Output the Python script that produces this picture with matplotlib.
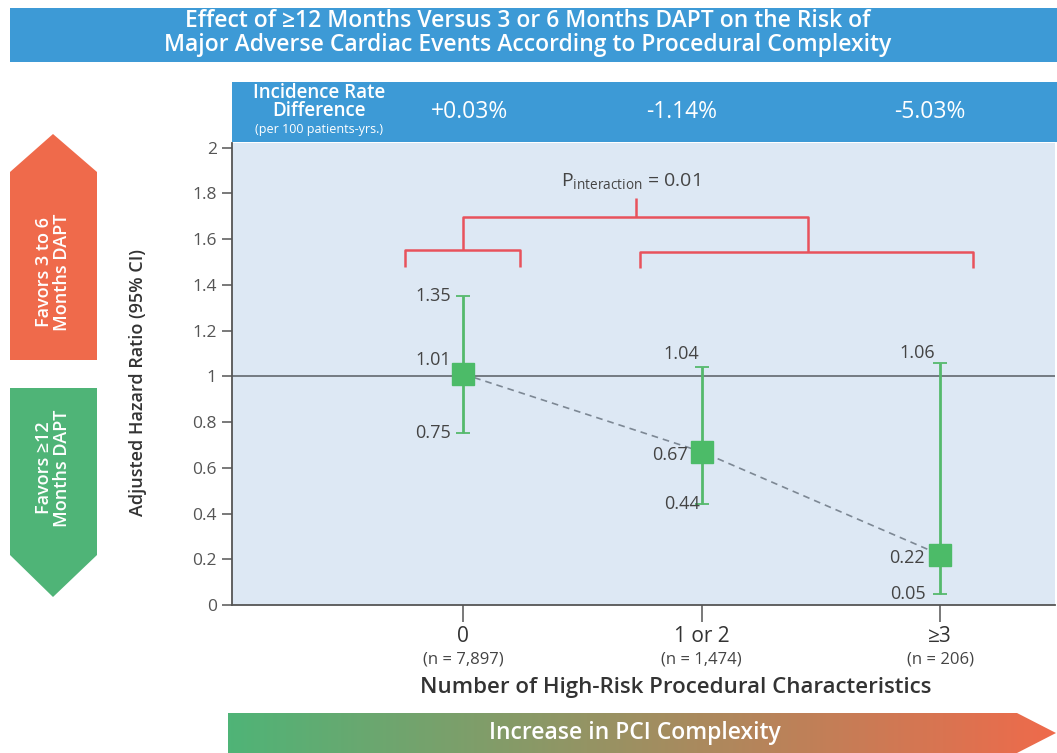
import numpy as np
import matplotlib
matplotlib.use('Agg')
import matplotlib.pyplot as plt
from matplotlib.patches import Polygon, Rectangle
from matplotlib.colors import LinearSegmentedColormap

# data
groups = ['0', '1 or 2', '\u22653']
group_n = ['(n = 7,897)', '(n = 1,474)', '(n = 206)']
hr = np.array([1.01, 0.67, 0.22])
ci_low = np.array([0.75, 0.44, 0.05])
ci_high = np.array([1.35, 1.04, 1.06])
rate_diff = ['+0.03%', '-1.14%', '-5.03%']
yticks = [0, 0.2, 0.4, 0.6, 0.8, 1, 1.2, 1.4, 1.6, 1.8, 2]
ytick_labels = ['0', '0.2', '0.4', '0.6', '0.8', '1', '1.2', '1.4', '1.6', '1.8', '2']

plt.rcParams['font.family'] = ['Open Sans', 'DejaVu Sans']

blue = '#3d9ad6'
orange = '#ef6a4b'
green = '#4fb477'
bar_green = '#55b96c'
red = '#e8525c'
dark = '#333333'
W, H = 1057, 753

fig = plt.figure(figsize=(W / 100, H / 100), dpi=100)
fig.patch.set_facecolor('white')

# decoration layer in pixel coords
deco = fig.add_axes([0, 0, 1, 1], zorder=0)
deco.axis('off')

deco.add_patch(Rectangle((10, 8), W - 10, 54, color=blue, lw=0))
deco.text(528, 21, 'Effect of \u226512 Months Versus 3 or 6 Months DAPT on the Risk of',
          ha='center', va='center', color='white', fontsize=16.5, fontweight='semibold')
deco.text(528, 45, 'Major Adverse Cardiac Events According to Procedural Complexity',
          ha='center', va='center', color='white', fontsize=16.5, fontweight='semibold')

# incidence rate header
deco.add_patch(Rectangle((232, 82), W - 232, 60, color=blue, lw=0))
deco.text(319, 93, 'Incidence Rate', ha='center', va='center', color='white',
          fontsize=13.5, fontweight='semibold')
deco.text(319, 111, 'Difference', ha='center', va='center', color='white',
          fontsize=13.5, fontweight='semibold')
deco.text(319, 129, '(per 100 patients-yrs.)', ha='center', va='center', color='white',
          fontsize=9)
for px, s in zip([470, 682, 930], rate_diff):
    deco.text(px, 112, s, ha='center', va='center', color='white', fontsize=16.5)

# side arrows
deco.add_patch(Polygon([(10, 172), (53, 134), (97, 172), (97, 360), (10, 360)],
                       closed=True, color=orange, lw=0))
deco.add_patch(Polygon([(10, 388), (97, 388), (97, 555), (53, 597), (10, 555)],
                       closed=True, color=green, lw=0))
deco.text(53, 272, 'Favors 3 to 6\nMonths DAPT', rotation=90, ha='center', va='center',
          color='white', fontsize=13, fontweight='semibold', linespacing=1.05)
deco.text(53, 468, 'Favors \u226512\nMonths DAPT', rotation=90, ha='center', va='center',
          color='white', fontsize=13, fontweight='semibold', linespacing=1.05)

# gradient arrow at the bottom
cmap = LinearSegmentedColormap.from_list('cx', [green, orange])
grad = np.linspace(0, 1, 256).reshape(1, -1)
im = deco.imshow(grad, cmap=cmap, extent=[228, 1056, 753, 713], aspect='auto')
clip = Polygon([(228, 713), (1017, 713), (1056, 733), (1017, 753), (228, 753)],
               closed=True, transform=deco.transData, fc='none', lw=0)
deco.add_patch(clip)
im.set_clip_path(clip)
deco.text(635, 733, 'Increase in PCI Complexity', ha='center', va='center',
          color='white', fontsize=16.5, fontweight='semibold')

deco.set_xlim(0, W)
deco.set_ylim(H, 0)

# main plot
ax_l, ax_r, ax_b, ax_t = 232, 1055, 605, 143
ax = fig.add_axes([ax_l / W, 1 - ax_b / H, (ax_r - ax_l) / W, (ax_b - ax_t) / H], zorder=1)
ax.set_facecolor('#dde8f4')
x = np.arange(len(groups))
ax.set_xlim(-0.969, -0.969 + (ax_r - ax_l) / 238.5)
ax.set_ylim(0, 2.02)

ax.axhline(1, color='#6b7278', lw=1.3, zorder=1)
ax.plot(x, hr, ls=(0, (4, 3)), color='#7d8894', lw=1.2, zorder=2)
ax.errorbar(x, hr, yerr=[hr - ci_low, ci_high - hr], fmt='none', ecolor=bar_green,
            elinewidth=2, capsize=5, capthick=1.3, zorder=3)
ax.plot(x, hr, 's', color='#4cbb68', ms=16, zorder=4)

# value labels
lab_kw = dict(textcoords='offset pixels', ha='right', va='center', color='#444444', fontsize=13)
hi_off = [(-12, 0), (-2, 13), (-5, 10)]
mid_off = [(-12, 14), (-14, -3), (-15, -3)]
lo_off = [(-12, 0), (-2, 0), (-14, 0)]
for i in range(len(groups)):
    ax.annotate(f'{ci_high[i]:.2f}', (x[i], ci_high[i]), xytext=hi_off[i], **lab_kw)
    ax.annotate(f'{hr[i]:.2f}', (x[i], hr[i]), xytext=mid_off[i], **lab_kw)
    ax.annotate(f'{ci_low[i]:.2f}', (x[i], ci_low[i]), xytext=lo_off[i], **lab_kw)

# interaction brackets
bk = dict(color=red, lw=1.8, solid_capstyle='butt', zorder=2)
ax.plot([-0.243, -0.243, 0.239, 0.239], [1.479, 1.554, 1.554, 1.479], **bk)
ax.plot([0.742, 0.742, 2.138, 2.138], [1.475, 1.545, 1.545, 1.475], **bk)
ax.plot([0, 0, 1.447, 1.447], [1.554, 1.698, 1.698, 1.545], **bk)
ax.plot([0.725, 0.725], [1.698, 1.781], **bk)
ax.text(0.70, 1.85, r'P$_{\mathregular{interaction}}$ = 0.01', ha='center', va='center',
        color='#444444', fontsize=14)

# axes styling
for s in ['top', 'right']:
    ax.spines[s].set_visible(False)
for s in ['left', 'bottom']:
    ax.spines[s].set_color('#555555')
    ax.spines[s].set_linewidth(1.3)
ax.set_yticks(yticks)
ax.set_yticklabels(ytick_labels, fontsize=12.5, color='#555555')
ax.tick_params(axis='y', length=7, width=1.1, color='#555555', pad=4)
ax.set_xticks(x)
ax.set_xticklabels(groups, fontsize=15, color=dark)
ax.tick_params(axis='x', length=12, width=1.1, color='#555555', pad=3)
for i in range(len(groups)):
    ax.annotate(group_n[i], (x[i], 0), xytext=(0, -55), textcoords='offset pixels',
                ha='center', va='center', fontsize=12, color='#444444')

ax.set_ylabel('Adjusted Hazard Ratio (95% CI)', fontsize=13, color=dark,
              fontweight='semibold')
ax.yaxis.set_label_coords((147 - ax_l) / (ax_r - ax_l), (ax_b - 382) / (ax_b - ax_t))
ax.set_xlabel('Number of High-Risk Procedural Characteristics', fontsize=16, color=dark,
              fontweight='semibold')
ax.xaxis.set_label_coords((676 - ax_l) / (ax_r - ax_l), -(677 - ax_b) / (ax_b - ax_t))

fig.savefig('out.png', dpi=100)
